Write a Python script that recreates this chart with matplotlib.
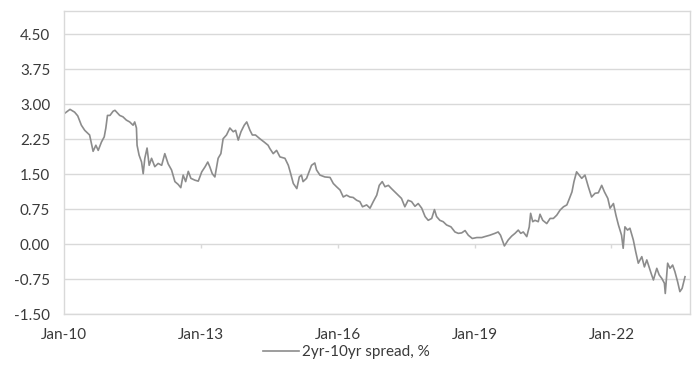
import matplotlib
matplotlib.use("Agg")
import matplotlib.pyplot as plt
import matplotlib.dates as mdates
import numpy as np
import pandas as pd

# values (US 2yr-10yr spread, %)
dates = [
    "2010-01-04", "2010-02-18", "2010-03-27", "2010-04-21", "2010-05-20", "2010-06-16",
    "2010-07-25", "2010-08-22", "2010-09-13", "2010-10-02", "2010-10-28", "2010-11-19",
    "2010-12-02", "2010-12-15", "2011-01-04", "2011-01-29", "2011-02-13", "2011-03-23",
    "2011-04-18", "2011-05-15", "2011-06-11", "2011-07-08", "2011-07-21", "2011-08-04",
    "2011-08-09", "2011-08-25", "2011-09-14", "2011-09-27", "2011-10-10", "2011-10-28",
    "2011-11-14", "2011-12-03", "2011-12-29", "2012-01-25", "2012-02-22", "2012-03-18",
    "2012-04-14", "2012-05-11", "2012-06-07", "2012-07-03", "2012-07-24", "2012-08-12",
    "2012-09-01", "2012-09-22", "2012-10-13", "2012-11-15", "2012-12-11", "2013-01-08",
    "2013-02-04", "2013-02-25", "2013-03-13", "2013-04-02", "2013-04-23", "2013-05-19",
    "2013-06-10", "2013-06-28", "2013-07-25", "2013-08-21", "2013-09-17", "2013-10-06",
    "2013-10-27", "2013-11-18", "2013-12-14", "2014-01-03", "2014-01-29", "2014-02-17",
    "2014-03-14", "2014-04-18", "2014-05-22", "2014-06-23", "2014-07-07", "2014-08-03",
    "2014-08-30", "2014-09-26", "2014-11-05", "2014-12-02", "2014-12-21", "2015-01-11",
    "2015-02-08", "2015-02-28", "2015-03-17", "2015-03-30", "2015-04-27", "2015-05-17",
    "2015-06-06", "2015-07-02", "2015-07-16", "2015-08-12", "2015-09-21", "2015-11-01",
    "2015-11-27", "2015-12-23", "2016-01-20", "2016-02-15", "2016-03-12", "2016-04-08",
    "2016-05-04", "2016-06-01", "2016-06-27", "2016-07-18", "2016-08-20", "2016-09-16",
    "2016-10-12", "2016-11-09", "2016-11-29", "2016-12-23", "2017-01-14", "2017-02-10",
    "2017-03-07", "2017-04-03", "2017-04-30", "2017-05-26", "2017-06-22", "2017-07-18",
    "2017-08-15", "2017-09-11", "2017-10-07", "2017-11-04", "2017-12-01", "2017-12-26",
    "2018-01-23", "2018-02-14", "2018-03-03", "2018-03-29", "2018-04-25", "2018-05-22",
    "2018-06-26", "2018-07-28", "2018-08-24", "2018-09-20", "2018-10-17", "2018-11-12",
    "2018-12-14", "2019-01-19", "2019-02-28", "2019-03-24", "2019-05-03", "2019-06-13",
    "2019-07-09", "2019-07-28", "2019-08-28", "2019-09-28", "2019-10-25", "2019-11-21",
    "2019-12-17", "2020-01-06", "2020-01-26", "2020-02-23", "2020-03-14", "2020-03-25",
    "2020-04-11", "2020-04-29", "2020-05-25", "2020-06-08", "2020-06-30", "2020-08-01",
    "2020-08-28", "2020-09-23", "2020-10-20", "2020-11-16", "2020-12-13", "2021-01-09",
    "2021-01-30", "2021-02-19", "2021-03-07", "2021-03-28", "2021-04-18", "2021-05-08",
    "2021-06-03", "2021-06-30", "2021-07-26", "2021-08-23", "2021-09-18", "2021-10-15",
    "2021-11-06", "2021-12-03", "2021-12-21", "2022-01-17", "2022-02-06", "2022-02-26",
    "2022-03-23", "2022-04-05", "2022-04-19", "2022-05-10", "2022-05-29", "2022-06-25",
    "2022-07-14", "2022-08-04", "2022-09-01", "2022-09-22", "2022-10-11", "2022-10-29",
    "2022-11-15", "2022-12-03", "2022-12-30", "2023-01-18", "2023-02-09", "2023-03-01",
    "2023-03-08", "2023-03-27", "2023-04-15", "2023-05-06", "2023-05-24", "2023-06-15",
    "2023-07-03", "2023-07-21", "2023-08-13",
]
spread = [
    2.80, 2.89, 2.83, 2.75, 2.55, 2.44,
    2.34, 1.99, 2.12, 2.01, 2.19, 2.30,
    2.49, 2.76, 2.76, 2.85, 2.87, 2.76,
    2.73, 2.66, 2.62, 2.55, 2.62, 2.49,
    2.12, 1.91, 1.76, 1.51, 1.84, 2.06,
    1.69, 1.84, 1.66, 1.73, 1.69, 1.94,
    1.72, 1.59, 1.34, 1.28, 1.21, 1.48,
    1.34, 1.56, 1.41, 1.37, 1.35, 1.55,
    1.66, 1.76, 1.66, 1.51, 1.44, 1.84,
    1.94, 2.26, 2.34, 2.49, 2.41, 2.44,
    2.23, 2.41, 2.55, 2.62, 2.44, 2.34,
    2.34, 2.26, 2.19, 2.12, 2.05, 1.94,
    2.01, 1.87, 1.84, 1.69, 1.51, 1.30,
    1.19, 1.44, 1.48, 1.34, 1.41, 1.55,
    1.69, 1.74, 1.59, 1.48, 1.44, 1.43,
    1.30, 1.23, 1.16, 1.01, 1.05, 1.01,
    1.00, 0.94, 0.91, 0.80, 0.84, 0.77,
    0.91, 1.05, 1.26, 1.34, 1.23, 1.26,
    1.19, 1.12, 1.05, 0.98, 0.80, 0.94,
    0.91, 0.81, 0.87, 0.77, 0.59, 0.51,
    0.55, 0.74, 0.59, 0.51, 0.48, 0.41,
    0.37, 0.26, 0.23, 0.24, 0.29, 0.19,
    0.12, 0.14, 0.14, 0.16, 0.19, 0.23,
    0.26, 0.19, -0.04, 0.09, 0.17, 0.23,
    0.30, 0.23, 0.26, 0.16, 0.37, 0.66,
    0.48, 0.51, 0.48, 0.64, 0.51, 0.44,
    0.55, 0.55, 0.62, 0.73, 0.80, 0.84,
    0.98, 1.12, 1.34, 1.55, 1.48, 1.41,
    1.48, 1.23, 1.01, 1.09, 1.10, 1.26,
    1.12, 0.98, 0.77, 0.87, 0.62, 0.41,
    0.19, -0.09, 0.37, 0.30, 0.34, 0.09,
    -0.16, -0.41, -0.27, -0.49, -0.34, -0.49,
    -0.63, -0.77, -0.52, -0.66, -0.74, -0.84,
    -1.06, -0.41, -0.52, -0.45, -0.59, -0.81,
    -1.02, -0.95, -0.70,
]
y_ticks = [-1.50, -0.75, 0.00, 0.75, 1.50, 2.25, 3.00, 3.75, 4.50]
x_ticks = ["2010-01-01", "2013-01-01", "2016-01-01", "2019-01-01", "2022-01-01"]
series_label = "2yr-10yr spread, %"

plt.rcParams["font.family"] = ["Lato", "DejaVu Sans"]
text_color = "#3a3a3a"
grid_color = "#d9d9d9"

df = pd.DataFrame({"date": pd.to_datetime(dates), "spread": spread})
tick_dates = pd.to_datetime(x_ticks)

fig = plt.figure(figsize=(7.0, 3.67), dpi=100)
ax = fig.add_axes([64 / 700, 1 - 314 / 367, 626 / 700, 303 / 367])

ax.plot(df["date"], df["spread"], color="#8c8c8c", lw=1.2, label=series_label)

ax.set_ylim(-1.5, 5.0)
ax.set_xlim(pd.Timestamp("2010-01-01"), pd.Timestamp("2023-09-22"))
ax.set_yticks(y_ticks)
ax.set_yticklabels([f"{v:.2f}" for v in y_ticks])
ax.set_xticks(tick_dates)
ax.xaxis.set_major_formatter(mdates.DateFormatter("%b-%y"))

ax.grid(axis="y", color=grid_color, lw=1.0)
ax.set_axisbelow(True)
for side in ["top", "right", "left", "bottom"]:
    ax.spines[side].set_color(grid_color)
    ax.spines[side].set_linewidth(1.0)

# small tick marks where the category axis crosses at zero
ax.vlines(tick_dates[1:], -0.08, 0.0, color=grid_color, lw=1.0)

ax.tick_params(axis="both", length=0, labelsize=11, colors=text_color)
ax.tick_params(axis="y", pad=10)
ax.tick_params(axis="x", pad=10)

fig.legend(loc="center", bbox_to_anchor=(0.495, 0.041), frameon=False,
           fontsize=11, handlelength=2.4, handletextpad=0.2,
           labelcolor=text_color)

fig.savefig("out.png", dpi=100)
